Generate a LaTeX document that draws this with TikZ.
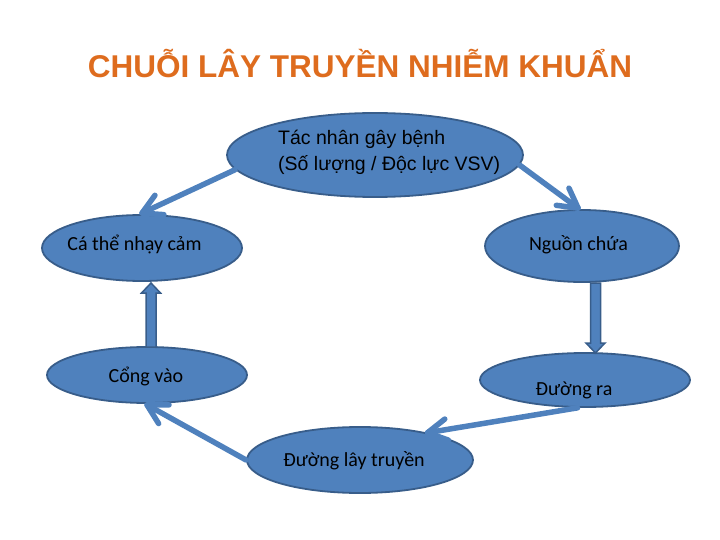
\documentclass[tikz,border=0pt]{standalone}
\usepackage{fontspec}
\setmainfont{Carlito}
\newfontfamily\arialf{Liberation Sans}
\usetikzlibrary{calc,shapes.geometric}
\definecolor{efill}{RGB}{79,129,189}
\definecolor{edraw}{RGB}{56,93,138}
\definecolor{titlec}{RGB}{222,108,30}
\definecolor{arrc}{RGB}{79,129,189}
\begin{document}
\begin{tikzpicture}[x=1pt,y=-1pt,
  ell/.style={ellipse, fill=efill, draw=edraw, line width=1.8pt, inner sep=0pt},
  lbl/.style={font=\fontsize{20}{24}\selectfont, text=black, inner sep=0pt},
  conn/.style={draw=arrc, line width=5.5pt, line cap=round, line join=round},
  blk/.style={fill=efill, draw=edraw, line width=1.5pt, line join=miter}]
\path[use as bounding box] (0,0) rectangle (720,540);

% title
\node[anchor=base, inner sep=0pt, text=titlec, font=\arialf\bfseries\fontsize{31.5}{36}\selectfont]
  (title) at (360,78) {CHUỖI LÂY TRUYỀN NHIỄM KHUẨN};

% ellipses
\node[ell, minimum width=296pt, minimum height=84pt] (tac) at (375,155) {};
\node[ell, minimum width=200pt, minimum height=66pt] (cathe) at (142,248) {};
\node[ell, minimum width=194pt, minimum height=72pt] (nguon) at (582,246) {};
\node[ell, minimum width=200pt, minimum height=56pt] (cong) at (147,375) {};
\node[ell, minimum width=210pt, minimum height=54pt] (ra) at (585,380) {};
\node[ell, minimum width=226pt, minimum height=66pt] (lay) at (360,460) {};

% texts
\node[lbl, anchor=west, align=left, font=\arialf\fontsize{19.5}{26}\selectfont]
  (ttac) at (278,152) {Tác nhân gây bệnh\\(Số lượng / Độc lực VSV)};
\node[lbl, anchor=base] (tcathe) at (134.5,251) {Cá thể nhạy cảm};
\node[lbl, anchor=base] (tnguon) at (578.5,250) {Nguồn chứa};
\node[lbl, anchor=base] (tcong) at (146,382) {Cổng vào};
\node[lbl, anchor=base] (tra) at (574,395) {Đường ra};
\node[lbl, anchor=base] (tlay) at (354,466) {Đường lây truyền};

% connectors (line + open V head)
\coordinate (s1) at (tac.186);   \coordinate (e1) at ($(cathe.north)+(0,-1)$);
\coordinate (s2) at (tac.-4);    \coordinate (e2) at ($(nguon.96)+(0,-1)$);
\coordinate (s3) at (ra.-105);   \coordinate (e3) at (lay.22);
\coordinate (s4) at (lay.west);  \coordinate (e4) at ($(cong.south)+(0,1)$);
\foreach \s/\e in {s1/e1,s2/e2,s3/e3,s4/e4}{
  \draw[conn] (\s) -- (\e);
  \draw[conn] ($(\e)!22pt!29:(\s)$) -- (\e) -- ($(\e)!22pt!-29:(\s)$);
}

% block arrows
\draw[blk] (146,347) -- (146,293) -- (141.5,293) -- (151,283) -- (160.5,293) -- (156,293) -- (156,347) -- cycle;
\draw[blk] (590.5,283) -- (590.5,343) -- (586,343) -- (595.5,353) -- (605,343) -- (600.5,343) -- (600.5,283) -- cycle;
\end{tikzpicture}
\end{document}
